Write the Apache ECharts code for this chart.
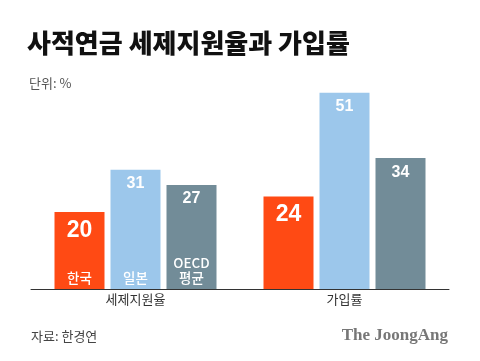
<!DOCTYPE html>
<html><head><meta charset="utf-8">
<script src="https://cdn.jsdelivr.net/npm/echarts@6/dist/echarts.min.js"></script>
<style>html,body{margin:0;padding:0;background:#fff}#c{width:480px;height:361px}</style>
</head><body><div id="c"></div>
<script>
const categories = ['세제지원율', '가입률'];
const seriesNames = ['한국', '일본', 'OECD\n평균'];
const korea = [20, 24];
const japan = [31, 51];
const oecd = [27, 34];
const colors = ['#FF4A14', '#9CC7EB', '#728C98'];
const values = [korea, japan, oecd];

const chart = echarts.init(document.getElementById('c'));
const common = {type: 'bar', barWidth: 50, barGap: '12%', barCategoryGap: '23%'};
const series = [];
values.forEach((d, i) => {
  series.push(Object.assign({}, common, {
    name: seriesNames[i], xAxisIndex: 0, data: d,
    itemStyle: {color: colors[i]},
    label: {show: true, position: 'insideTop', distance: 6, color: '#fff', fontWeight: 'bold',
      fontFamily: 'Liberation Sans, Arial, sans-serif',
      fontSize: i === 0 ? 23 : 16,
      offset: [0, i === 0 ? 1 : 0],
      formatter: p => String(p.value)}
  }));
});
values.forEach((d, i) => {
  series.push(Object.assign({}, common, {
    name: seriesNames[i] + '_lbl', xAxisIndex: 1, data: d,
    itemStyle: {color: 'rgba(0,0,0,0)'},
    label: {show: true, position: 'insideBottom', distance: 4, color: '#fff',
      fontFamily: 'Noto Sans CJK KR, sans-serif', fontSize: 13.5, lineHeight: 15, fontWeight: 500,
      formatter: p => p.dataIndex === 0 ? seriesNames[i] : ''}
  }));
});

chart.setOption({
  animation: false,
  title: [
    {text: '사적연금 세제지원율과 가입률', left: 22, top: 25,
     textStyle: {fontFamily: 'Noto Sans CJK KR', fontWeight: 900, fontSize: 26, color: '#111'}},
    {text: '단위: %', left: 24, top: 72,
     textStyle: {fontFamily: 'Noto Sans CJK KR', fontWeight: 'normal', fontSize: 13, color: '#555'}},
    {text: '자료: 한경연', left: 26, top: 325,
     textStyle: {fontFamily: 'Noto Sans CJK KR', fontWeight: 'normal', fontSize: 13, color: '#444'}},
    {text: 'The JoongAng', right: 27, top: 322,
     textStyle: {fontFamily: 'Liberation Serif, DejaVu Serif, serif', fontWeight: 'bold', fontSize: 17, color: '#777'}}
  ],
  grid: {left: 31, right: 31, top: 58, bottom: 72},
  xAxis: [
    {type: 'category', data: categories,
     axisLine: {lineStyle: {color: '#333', width: 1}}, axisTick: {show: false},
     axisLabel: {color: '#333', fontSize: 13, margin: 4, fontFamily: 'Noto Sans CJK KR'}},
    {type: 'category', data: categories, show: false}
  ],
  yAxis: {type: 'value', min: 0, max: 60, show: false, splitLine: {show: false}},
  series: series
});
</script></body></html>
